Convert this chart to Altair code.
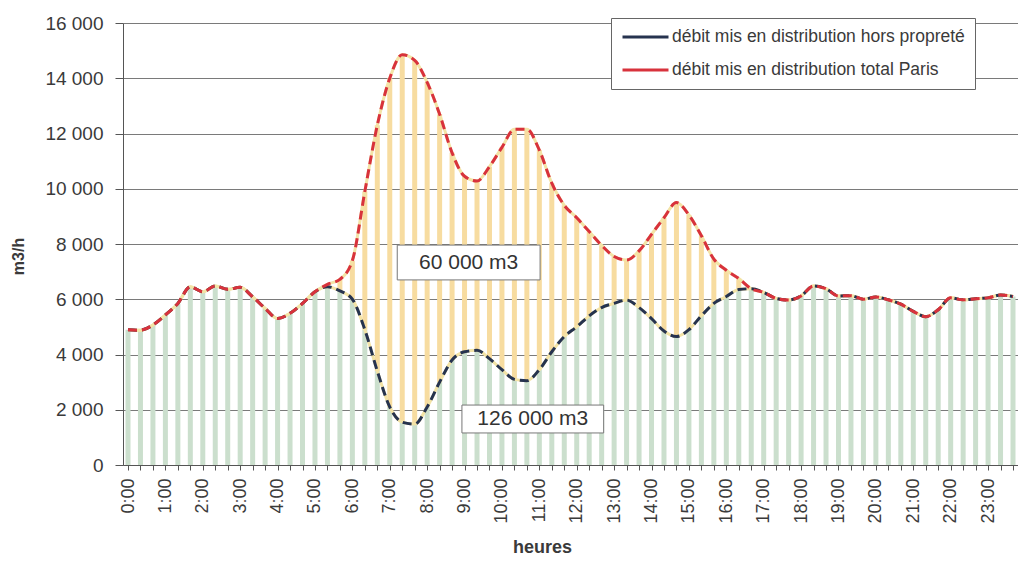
import altair as alt
import pandas as pd

# ---------------- data ----------------
time_labels = [
    "0:00", "0:20", "0:40", "1:00", "1:20", "1:40", "2:00", "2:20", "2:40",
    "3:00", "3:20", "3:40", "4:00", "4:20", "4:40", "5:00", "5:20", "5:40",
    "6:00", "6:20", "6:40", "7:00", "7:20", "7:40", "8:00", "8:20", "8:40",
    "9:00", "9:20", "9:40", "10:00", "10:20", "10:40", "11:00", "11:20", "11:40",
    "12:00", "12:20", "12:40", "13:00", "13:20", "13:40", "14:00", "14:20", "14:40",
    "15:00", "15:20", "15:40", "16:00", "16:20", "16:40", "17:00", "17:20", "17:40",
    "18:00", "18:20", "18:40", "19:00", "19:20", "19:40", "20:00", "20:20", "20:40",
    "21:00", "21:20", "21:40", "22:00", "22:20", "22:40", "23:00", "23:20", "23:40",
]

total_paris = [
    4900, 4880, 5070, 5430, 5850, 6450, 6270, 6480, 6360,
    6430, 6090, 5670, 5300, 5490, 5850, 6270, 6540, 6720,
    7400, 9900, 12300, 14000, 14850, 14650, 13850, 12700, 11300,
    10450, 10280, 10800, 11500, 12150, 12150, 11400, 10200, 9400,
    8950, 8450, 7950, 7550, 7420, 7750, 8350, 8950, 9500,
    9050, 8300, 7450, 7050, 6750, 6380, 6250, 6030, 5970,
    6120, 6480, 6380, 6120, 6130, 6000, 6080, 5980, 5820,
    5560, 5370, 5620, 6050, 5980, 6020, 6050, 6150, 6100,
]

hors_proprete = [
    4900, 4880, 5070, 5430, 5850, 6450, 6270, 6480, 6360,
    6430, 6090, 5670, 5300, 5490, 5850, 6270, 6450, 6300,
    6000, 4900, 3400, 2100, 1550, 1480, 2100, 3000, 3800,
    4100, 4150, 3850, 3450, 3100, 3050, 3450, 4100, 4650,
    5000, 5400, 5700, 5850, 5970, 5700, 5300, 4850, 4650,
    4900, 5400, 5850, 6100, 6350, 6380, 6250, 6030, 5970,
    6120, 6480, 6380, 6120, 6130, 6000, 6080, 5980, 5820,
    5560, 5370, 5620, 6050, 5980, 6020, 6050, 6150, 6100,
]

series_names = [
    "débit mis en distribution hors propreté",
    "débit mis en distribution total Paris",
]
series_colors = ["#26334f", "#d8323c"]

y_ticks = [0, 2000, 4000, 6000, 8000, 10000, 12000, 14000, 16000]

# annotation boxes (data units: hours / m3/h)
ann_labels = ["60 000 m3", "126 000 m3"]
ann_x0 = [7.2, 8.93]
ann_x1 = [11.02, 12.72]
ann_y0 = [6700, 1160]
ann_y1 = [7960, 2170]


def to_hours(s):
    h, m = s.split(":")
    return int(h) + int(m) / 60


hours = [to_hours(t) for t in time_labels]

wide = pd.DataFrame({"h": hours, "hp": hors_proprete, "tp": total_paris})
long = pd.concat([
    pd.DataFrame({"h": hours, "v": hors_proprete, "serie": series_names[0]}),
    pd.DataFrame({"h": hours, "v": total_paris, "serie": series_names[1]}),
])
ann = pd.DataFrame({
    "label": ann_labels, "x0": ann_x0, "x1": ann_x1, "y0": ann_y0, "y1": ann_y1,
})
ann["xc"] = (ann["x0"] + ann["x1"]) / 2
ann["yc"] = (ann["y0"] + ann["y1"]) / 2

FONT = "Liberation Sans"
TXT = "#3a3a3a"

x_scale = alt.Scale(domain=[0, hours[-1]], nice=False, zero=False)
y_scale = alt.Scale(domain=[0, 16000], nice=False)

x_axis = alt.Axis(
    values=hours, tickCount=len(hours) + 10,
    labelExpr="datum.value % 1 == 0 ? datum.value + ':00' : ''",
    labelAngle=-90, labelAlign="right", labelBaseline="middle",
    labelFontSize=18, labelColor=TXT, labelPadding=8, labelOverlap=False,
    labelFlush=False, tickSize=5, tickColor="#555", domainColor="#555",
    grid=False, title="heures", titleFontSize=18, titleFontWeight="bold",
    titleColor=TXT, titleX=419, titleY=73, titleBaseline="top",
)
y_axis = alt.Axis(
    values=y_ticks,
    labelExpr="replace(format(datum.value, ','), ',', ' ')",
    labelFontSize=19, labelColor=TXT, labelPadding=12, tickSize=8,
    tickColor="#555", domainColor="#555", grid=True, gridColor="#7a7a7a",
    title="m3/h", titleFontSize=16, titleFontWeight="bold", titleColor=TXT,
    titleAngle=-90, titleX=-105, titleY=233, titleAlign="center",
    titleBaseline="middle",
)

base_w = alt.Chart(wide)

green = base_w.mark_bar(size=5, color="#cbdfcd", clip=True).encode(
    x=alt.X("h:Q", scale=x_scale, axis=x_axis),
    y=alt.Y("hp:Q", scale=y_scale, axis=y_axis),
)
yellow = base_w.mark_bar(size=5, color="#f7dca0", clip=True).encode(
    x=alt.X("h:Q", scale=x_scale),
    y=alt.Y("hp:Q", scale=y_scale),
    y2="tp:Q",
)

base_l = alt.Chart(long)
under = base_l.mark_line(color="#f3e3a6", strokeWidth=3, interpolate="monotone").encode(
    x=alt.X("h:Q", scale=x_scale),
    y=alt.Y("v:Q", scale=y_scale),
    detail="serie:N",
)
lines = base_l.mark_line(strokeWidth=3, strokeDash=[9, 5], interpolate="monotone").encode(
    x=alt.X("h:Q", scale=x_scale),
    y=alt.Y("v:Q", scale=y_scale),
    color=alt.Color(
        "serie:N",
        scale=alt.Scale(domain=series_names, range=series_colors),
        sort=series_names,
        legend=alt.Legend(
            title=None, orient="none", legendX=488, legendY=-5,
            fillColor="white", strokeColor="#666", padding=10,
            symbolType="stroke", symbolSize=2116, symbolStrokeWidth=3,
            symbolDash=[1, 0], clipHeight=18, rowPadding=15,
            labelFontSize=17.5, labelColor=TXT, labelOffset=2, labelLimit=0,
            labelFont=FONT,
        ),
    ),
)

base_a = alt.Chart(ann)
boxes = base_a.mark_rect(fill="white", stroke="#777", strokeWidth=1).encode(
    x=alt.X("x0:Q", scale=x_scale), x2="x1:Q",
    y=alt.Y("y0:Q", scale=y_scale), y2="y1:Q",
)
texts = base_a.mark_text(fontSize=21, color="#333", font=FONT).encode(
    x=alt.X("xc:Q", scale=x_scale),
    y=alt.Y("yc:Q", scale=y_scale),
    text="label:N",
)

chart = alt.layer(green, yellow, under, lines, boxes, texts).properties(
    width=895, height=442,
    autosize=alt.AutoSizeParams(type="none"),
    padding={"left": 115, "top": 15, "right": 0, "bottom": 94},
).configure(font=FONT).configure_view(stroke=None)

chart.save("out.html", embed_options={"renderer": "svg", "actions": False})
